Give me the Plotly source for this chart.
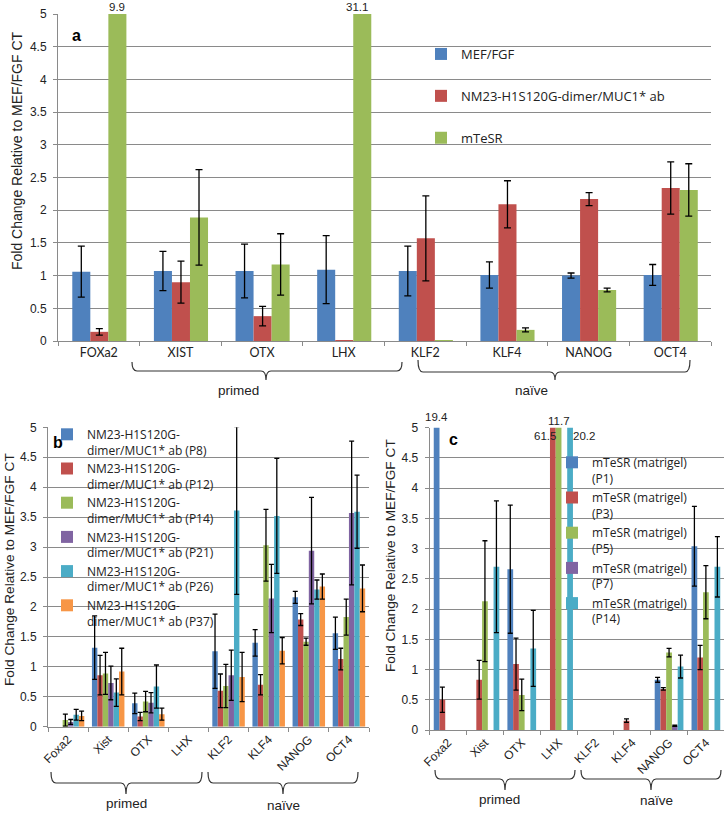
import numpy as np
import plotly.graph_objects as go

W, H = 728, 813

# ---------------- data ----------------
cats_a = ["FOXa2", "XIST", "OTX", "LHX", "KLF2", "KLF4", "NANOG", "OCT4"]
names_a = ["MEF/FGF", "NM23-H1S120G-dimer/MUC1* ab", "mTeSR"]
a_mef = [1.06, 1.07, 1.07, 1.09, 1.07, 1.01, 1.00, 1.01]
a_mef_err = [0.39, 0.30, 0.41, 0.52, 0.38, 0.20, 0.04, 0.16]
a_nm23 = [0.14, 0.90, 0.38, 0.005, 1.57, 2.09, 2.17, 2.34]
a_nm23_err = [0.05, 0.32, 0.15, None, 0.65, 0.36, 0.10, 0.40]
a_mtesr = [9.9, 1.89, 1.17, 31.1, 0.003, 0.17, 0.78, 2.31]
a_mtesr_err = [None, 0.73, 0.47, None, None, 0.03, 0.03, 0.40]

cats_bc = ["Foxa2", "Xist", "OTX", "LHX", "KLF2", "KLF4", "NANOG", "OCT4"]
names_b = ["NM23-H1S120G-<br>dimer/MUC1* ab (P8)", "NM23-H1S120G-<br>dimer/MUC1* ab (P12)",
           "NM23-H1S120G-<br>dimer/MUC1* ab (P14)", "NM23-H1S120G-<br>dimer/MUC1* ab (P21)",
           "NM23-H1S120G-<br>dimer/MUC1* ab (P26)", "NM23-H1S120G-<br>dimer/MUC1* ab (P37)"]
b_p8 = [0, 1.32, 0.39, 0, 1.26, 1.40, 2.16, 1.56]
b_p8_err = [None, 0.53, 0.17, None, 0.62, 0.22, 0.10, 0.27]
b_p12 = [0, 0.86, 0.17, 0, 0.60, 0.70, 1.79, 1.13]
b_p12_err = [None, 0.33, 0.07, None, 0.28, 0.17, 0.10, 0.18]
b_p14 = [0.11, 0.89, 0.42, 0, 0.68, 3.03, 1.42, 1.83]
b_p14_err = [0.10, 0.35, 0.17, None, 0.36, 0.60, 0.06, 0.30]
b_p21 = [0.08, 0.73, 0.40, 0, 0.86, 2.14, 2.94, 3.57]
b_p21_err = [0.04, 0.28, 0.17, None, 0.42, 0.57, 0.89, 1.20]
b_p26 = [0.20, 0.57, 0.67, 0, 3.61, 3.52, 2.29, 3.59]
b_p26_err = [0.09, 0.23, 0.36, None, 1.40, 0.96, 0.16, 0.61]
b_p37 = [0.18, 0.92, 0.21, 0, 0.83, 1.27, 2.34, 2.31]
b_p37_err = [0.08, 0.39, 0.10, None, 0.41, 0.22, 0.21, 0.39]

names_c = ["mTeSR (matrigel)<br>(P1)", "mTeSR (matrigel)<br>(P3)", "mTeSR (matrigel)<br>(P5)",
           "mTeSR (matrigel)<br>(P7)", "mTeSR (matrigel)<br>(P14)"]
c_p1 = [19.4, 0, 2.66, 0, 0, 0, 0.83, 3.04]
c_p1_err = [None, None, 1.06, None, None, None, 0.04, 0.66]
c_p3 = [0.50, 0.83, 1.09, 61.5, 0, 0.155, 0.68, 1.20]
c_p3_err = [0.21, 0.32, 0.43, None, None, 0.03, 0.02, 0.20]
c_p5 = [0, 2.13, 0.58, 11.7, 0, 0, 1.28, 2.28]
c_p5_err = [None, 1.00, 0.26, None, None, None, 0.07, 0.44]
c_p7 = [0, 0, 0, 0, 0, 0, 0.07, 0]
c_p7_err = [None, None, None, None, None, None, 0.01, None]
c_p14 = [0, 2.70, 1.35, 20.2, 0, 0, 1.05, 2.70]
c_p14_err = [None, 1.09, 0.63, None, None, None, 0.19, 0.50]

group_labels = ["primed", "naïve"]

# ---------------- styles ----------------
COLORS = ["#4F81BD", "#C0504D", "#9BBB59", "#8064A2", "#4BACC6", "#F79646"]
GRID = "#8A8A8A"
ARIAL = "Liberation Sans, Arial, sans-serif"
CAL = "Lato, Carlito, Calibri, sans-serif"
LEG = "Open Sans, sans-serif"


def px_x(v):
    return v / W


def px_y(v):
    return 1 - v / H


fig = go.Figure()


def add_bars(xaxis, yaxis, cats, series, errs, names, width, start, legend, capw, groups=False):
    for i, (vals, err, nm) in enumerate(zip(series, errs, names)):
        fig.add_trace(go.Bar(
            x=cats, y=vals, name=nm, xaxis=xaxis, yaxis=yaxis,
            marker=dict(color=COLORS[i], line=dict(width=0)),
            width=width, offset=start + i * width,
            error_y=dict(type="data", array=np.array(err, dtype=float), visible=True,
                         color="black", thickness=1.3, width=capw),
            legend=legend, legendgroup=(f"{legend}{i}" if groups else None),
            hoverinfo="x+y+name",
        ))


add_bars("x", "y", cats_a, [a_mef, a_nm23, a_mtesr], [a_mef_err, a_nm23_err, a_mtesr_err],
         names_a, 0.221, -0.325, "legend", 3.5, groups=True)
add_bars("x2", "y2", cats_bc, [b_p8, b_p12, b_p14, b_p21, b_p26, b_p37],
         [b_p8_err, b_p12_err, b_p14_err, b_p21_err, b_p26_err, b_p37_err],
         names_b, 0.135, -0.405, "legend2", 2.5)
add_bars("x3", "y3", cats_bc, [c_p1, c_p3, c_p5, c_p7, c_p14],
         [c_p1_err, c_p3_err, c_p5_err, c_p7_err, c_p14_err],
         names_c, 0.156, -0.39, "legend3", 2.5, groups=True)


def xax(domain, anchor, font, angle=0):
    return dict(domain=domain, anchor=anchor, type="category", range=[-0.5, 7.5],
                showline=True, linecolor=GRID, linewidth=1, ticks="outside", tickson="boundaries",
                ticklen=4, tickcolor=GRID, tickfont=font, tickangle=angle, showgrid=False,
                zeroline=False, fixedrange=True, automargin=False)


def yax(domain, anchor, font):
    return dict(domain=domain, anchor=anchor, range=[0, 5], dtick=0.5, showgrid=True,
                gridcolor=GRID, gridwidth=1, showline=True, linecolor=GRID, ticks="outside",
                ticklen=4, tickcolor=GRID, tickfont=font, zeroline=False, fixedrange=True,
                ticklabelstandoff=4, automargin=False)


fig.update_layout(
    width=W, height=H, autosize=False,
    margin=dict(l=0, r=0, t=0, b=0, pad=0, autoexpand=False),
    paper_bgcolor="white", plot_bgcolor="white",
    barmode="overlay",
    showlegend=True,
    xaxis=xax([px_x(58), px_x(711)], "y", dict(family=CAL, size=12.5, color="#222")),
    yaxis=yax([px_y(341), px_y(14)], "x", dict(family=ARIAL, size=12, color="#222")),
    xaxis2=xax([px_x(48), px_x(369)], "y2", dict(family=ARIAL, size=12, color="#222"), -45),
    yaxis2=yax([px_y(726.7), px_y(427.3)], "x2", dict(family=ARIAL, size=12, color="#222")),
    xaxis3=xax([px_x(429.7), px_x(724.3)], "y3", dict(family=ARIAL, size=12, color="#222"), -45),
    yaxis3=yax([px_y(730), px_y(427.7)], "x3", dict(family=ARIAL, size=12, color="#222")),
    legend=dict(x=px_x(421), y=px_y(39), xanchor="left", yanchor="top",
                bgcolor="rgba(0,0,0,0)", font=dict(family=LEG, size=13, color="#222"),
                tracegroupgap=22, itemclick=False, itemdoubleclick=False),
    legend2=dict(x=px_x(47), y=px_y(420), xanchor="left", yanchor="top", valign="top",
                 bgcolor="rgba(0,0,0,0)", font=dict(family=LEG, size=12, color="#222"),
                 itemclick=False, itemdoubleclick=False),
    legend3=dict(x=px_x(552), y=px_y(448), xanchor="left", yanchor="top", valign="top",
                 bgcolor="rgba(0,0,0,0)", font=dict(family=LEG, size=12, color="#222"),
                 tracegroupgap=1, itemclick=False, itemdoubleclick=False),
)

ann = []
# y-axis titles
ytitle = "Fold Change Relative to MEF/FGF CT"
for (xc, yc, fs) in [(17, 151, 14), (9, 570, 13.7), (390, 556, 13.7)]:
    ann.append(dict(text=ytitle, textangle=-90, x=px_x(xc), y=px_y(yc), xref="paper", yref="paper",
                    showarrow=False, xanchor="center", yanchor="middle",
                    font=dict(family=ARIAL, size=fs, color="#222")))
# panel letters
for (t, xc, yc) in [("a", 76, 36), ("b", 58, 443), ("c", 453, 439)]:
    ann.append(dict(text=f"<b>{t}</b>", x=px_x(xc), y=px_y(yc), xref="paper", yref="paper",
                    showarrow=False, xanchor="center", yanchor="middle",
                    font=dict(family=ARIAL, size=16, color="black")))

# value labels for bars exceeding the axis
lab = dict(showarrow=False, borderpad=0, font=dict(family=ARIAL, size=11.5, color="#222"))
ann.append(dict(text=str(a_mtesr[0]), x=0 - 0.325 + 2.5 * 0.221, y=5, xref="x", yref="y",
                xanchor="center", yanchor="middle", yshift=6.5, **lab))
ann.append(dict(text=str(a_mtesr[3]), x=3 - 0.325 + 2.5 * 0.221, y=5, xref="x", yref="y",
                xanchor="center", yanchor="middle", xshift=-5, yshift=6.5, **lab))
ann.append(dict(text=str(c_p1[0]), x=0 - 0.39 + 0.5 * 0.156, y=5, xref="x3", yref="y3",
                xanchor="center", yanchor="bottom", yshift=4, **lab))
ann.append(dict(text=str(c_p5[3]), x=3 - 0.39 + 2.5 * 0.156, y=5, xref="x3", yref="y3",
                xanchor="center", yanchor="bottom", **lab))
ann.append(dict(text=str(c_p3[3]), x=3 - 0.39 + 1.5 * 0.156, y=5, xref="x3", yref="y3",
                xanchor="right", yanchor="top", xshift=4, yshift=-1, **lab))
ann.append(dict(text=str(c_p14[3]), x=3 - 0.39 + 4.5 * 0.156, y=5, xref="x3", yref="y3",
                xanchor="left", yanchor="top", xshift=2, yshift=-1, **lab))

# group braces
shapes = []


def brace(x0, x1, xt, ytop, ymid, ybot, r=5):
    pts = [
        f"M{px_x(x0)},{px_y(ytop)}",
        f"Q{px_x(x0)},{px_y(ymid)} {px_x(x0 + r)},{px_y(ymid)}",
        f"L{px_x(xt - r)},{px_y(ymid)}",
        f"Q{px_x(xt)},{px_y(ymid)} {px_x(xt)},{px_y(ybot)}",
        f"Q{px_x(xt)},{px_y(ymid)} {px_x(xt + r)},{px_y(ymid)}",
        f"L{px_x(x1 - r)},{px_y(ymid)}",
        f"Q{px_x(x1)},{px_y(ymid)} {px_x(x1)},{px_y(ytop)}",
    ]
    shapes.append(dict(type="path", path=" ".join(pts), xref="paper", yref="paper",
                       line=dict(color="#333", width=1.2)))


braces = [
    # x0, x1, tip, ytop, ymid, ybot, text x, text y, label
    (132, 402, 266, 362, 371, 380, 238, 391, 0),
    (418, 690, 555, 360, 372, 380, 531, 391, 1),
    (51, 202, 126, 772, 783, 794, 126, 803, 0),
    (208, 358, 283, 772, 783, 794, 283, 805, 1),
    (435, 575, 505, 770, 779, 790, 499, 799, 0),
    (581, 721, 651, 770, 779, 790, 656, 800, 1),
]
for (x0, x1, xt, yt, ym, yb, tx, ty, li) in braces:
    brace(x0, x1, xt, yt, ym, yb)
    ann.append(dict(text=group_labels[li], x=px_x(tx), y=px_y(ty), xref="paper", yref="paper",
                    showarrow=False, xanchor="center", yanchor="middle",
                    font=dict(family=ARIAL, size=13.5, color="#222")))

fig.update_layout(annotations=ann, shapes=shapes)

fig.write_html(
    "out.html",
    config={"displayModeBar": False},
    post_script="document.body.style.margin='0';document.body.style.overflow='hidden';",
)
